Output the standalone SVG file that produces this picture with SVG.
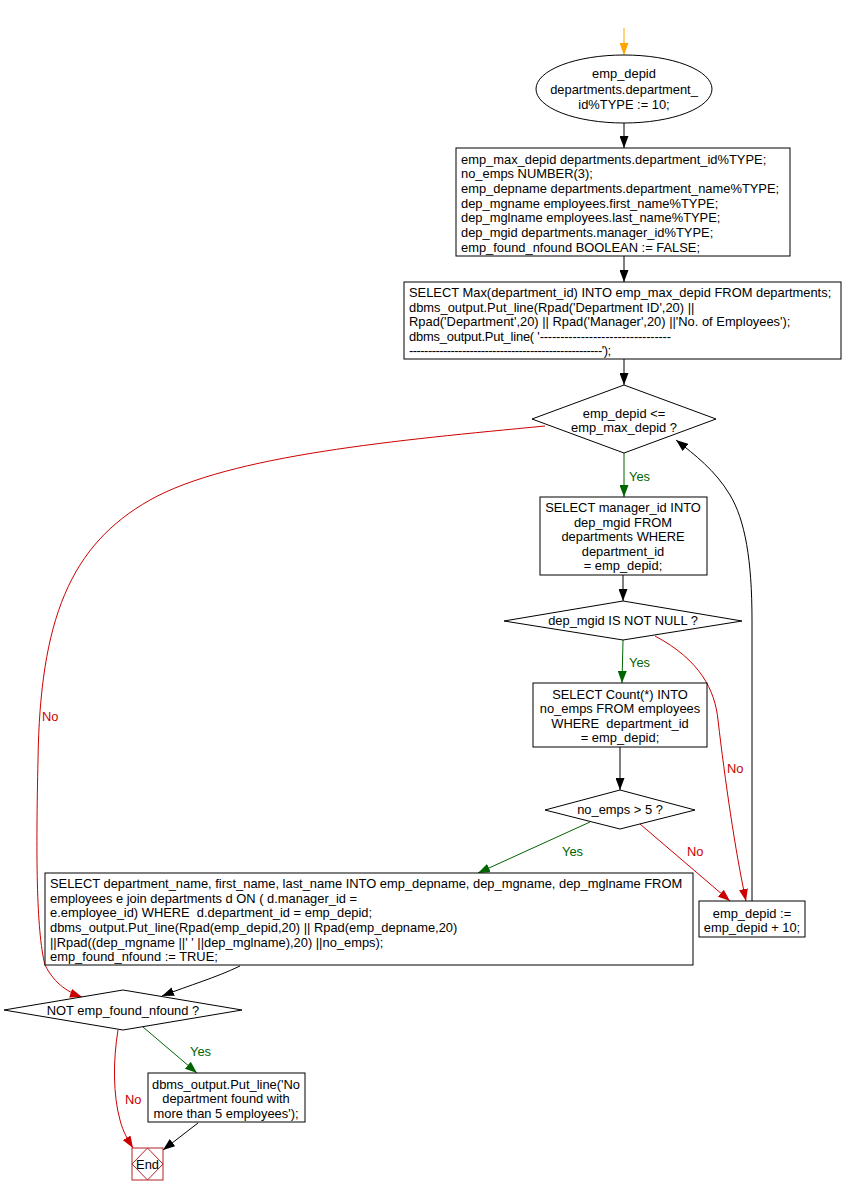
<svg xmlns="http://www.w3.org/2000/svg" width="844" height="1196" viewBox="0 0 844 1196">
<style>
text{font-family:"Liberation Sans",Arial,sans-serif;font-size:12.9px;fill:#000;white-space:pre}
.c{text-anchor:middle}
.n{fill:#fff;stroke:#000;stroke-width:1}
.e{fill:none;stroke-width:1}
.k{stroke:#000}.r{stroke:#cc0000}.g{stroke:#006400}.o{stroke:#ffa500}
.lr{fill:#cc0000}.lg{fill:#006400}
</style>
<defs>
<marker id="ak" markerUnits="userSpaceOnUse" markerWidth="12" markerHeight="9" refX="12" refY="4.5" orient="auto"><path d="M0,0L12,4.5L0,9z" fill="#000"/></marker>
<marker id="ar" markerUnits="userSpaceOnUse" markerWidth="12" markerHeight="9" refX="12" refY="4.5" orient="auto"><path d="M0,0L12,4.5L0,9z" fill="#cc0000"/></marker>
<marker id="ag" markerUnits="userSpaceOnUse" markerWidth="12" markerHeight="9" refX="12" refY="4.5" orient="auto"><path d="M0,0L12,4.5L0,9z" fill="#006400"/></marker>
<marker id="ao" markerUnits="userSpaceOnUse" markerWidth="12" markerHeight="9" refX="12" refY="4.5" orient="auto"><path d="M0,0L12,4.5L0,9z" fill="#ffa500"/></marker>
</defs>
<rect width="844" height="1196" fill="#fff"/>
<g id="connectors">
<path class="e o" d="M624,28V55" marker-end="url(#ao)"/>
<path class="e k" d="M624,123V148" marker-end="url(#ak)"/>
<path class="e k" d="M624,256V282" marker-end="url(#ak)"/>
<path class="e k" d="M624,359V385" marker-end="url(#ak)"/>
<path class="e g" d="M624,453V497" marker-end="url(#ag)"/>
<text x="629" y="481" class="lg">Yes</text>
<path class="e r" d="M545,426C400,440 230,455 150,500C70,545 40,620 38,760C36,850 36,930 45,965C55,985 70,993 82,997" marker-end="url(#ar)"/>
<text x="42" y="721" class="lr">No</text>
<path class="e k" d="M623,575V601" marker-end="url(#ak)"/>
<path class="e g" d="M623,640L622,683" marker-end="url(#ag)"/>
<text x="629" y="667" class="lg">Yes</text>
<path class="e r" d="M655,636C700,660 715,690 718,720C725,780 735,850 746,901" marker-end="url(#ar)"/>
<text x="727" y="773" class="lr">No</text>
<path class="e k" d="M620,747V790" marker-end="url(#ak)"/>
<path class="e g" d="M590,822L478,873" marker-end="url(#ag)"/>
<text x="562" y="856" class="lg">Yes</text>
<path class="e r" d="M640,824L730,901" marker-end="url(#ar)"/>
<text x="687" y="856" class="lr">No</text>
<path class="e k" d="M752,901V620C752,560 745,520 730,495C715,470 695,455 676,440" marker-end="url(#ak)"/>
<path class="e k" d="M240,966C215,978 190,985 162,996" marker-end="url(#ak)"/>
<path class="e r" d="M118,1030C113,1060 113,1095 120,1120C123,1132 128,1140 133,1148" marker-end="url(#ar)"/>
<text x="125" y="1104" class="lr">No</text>
<path class="e g" d="M143,1027L197,1073" marker-end="url(#ag)"/>
<text x="190" y="1056" class="lg">Yes</text>
<path class="e k" d="M198,1123L163,1150" marker-end="url(#ak)"/>
</g>
<g id="start">
<ellipse class="n" cx="624" cy="89" rx="88" ry="34"/>
<text class="c" x="624" y="78">emp_depid</text>
<text class="c" x="624" y="94">departments.department_</text>
<text class="c" x="624" y="109">id%TYPE := 10;</text>
</g>
<g id="declare">
<rect class="n" x="456" y="148" width="334" height="108"/>
<text x="461" y="164">emp_max_depid departments.department_id%TYPE;</text>
<text x="461" y="178">no_emps NUMBER(3);</text>
<text x="461" y="193">emp_depname departments.department_name%TYPE;</text>
<text x="461" y="208">dep_mgname employees.first_name%TYPE;</text>
<text x="461" y="222">dep_mglname employees.last_name%TYPE;</text>
<text x="461" y="237">dep_mgid departments.manager_id%TYPE;</text>
<text x="461" y="252">emp_found_nfound BOOLEAN := FALSE;</text>
</g>
<g id="selectmax">
<rect class="n" x="404" y="282" width="437" height="77"/>
<text x="409" y="297">SELECT Max(department_id) INTO emp_max_depid FROM departments;</text>
<text x="409" y="312">dbms_output.Put_line(Rpad('Department ID',20) ||</text>
<text x="409" y="326">Rpad('Department',20) || Rpad('Manager',20) ||'No. of Employees');</text>
<text x="409" y="341" textLength="262" lengthAdjust="spacing">dbms_output.Put_line( '--------------------------------</text>
<text x="409" y="355" textLength="202" lengthAdjust="spacing">---------------------------------------------------');</text>
</g>
<g id="loopcond">
<polygon class="n" points="624,385 716,419 624,453 532,419"/>
<text class="c" x="624" y="418">emp_depid &lt;=</text>
<text class="c" x="624" y="432">emp_max_depid ?</text>
</g>
<g id="selectmgr">
<rect class="n" x="540" y="497" width="167" height="78"/>
<text class="c" x="623" y="512">SELECT manager_id INTO</text>
<text class="c" x="623" y="527">dep_mgid FROM</text>
<text class="c" x="623" y="541">departments WHERE</text>
<text class="c" x="623" y="556">department_id</text>
<text class="c" x="623" y="570">= emp_depid;</text>
</g>
<g id="mgrcond">
<polygon class="n" points="623,601 742,621 623,640 504,621"/>
<text class="c" x="623" y="625">dep_mgid IS NOT NULL ?</text>
</g>
<g id="selectcount">
<rect class="n" x="533" y="683" width="174" height="64"/>
<text class="c" x="620" y="699">SELECT Count(*) INTO</text>
<text class="c" x="620" y="713">no_emps FROM employees</text>
<text class="c" x="620" y="728">WHERE  department_id</text>
<text class="c" x="620" y="742">= emp_depid;</text>
</g>
<g id="countcond">
<polygon class="n" points="620,790 695,810 620,829 545,810"/>
<text class="c" x="620" y="814">no_emps &gt; 5 ?</text>
</g>
<g id="increment">
<rect class="n" x="699" y="901" width="106" height="36"/>
<text class="c" x="752" y="918">emp_depid :=</text>
<text class="c" x="752" y="932">emp_depid + 10;</text>
</g>
<g id="selectdetails">
<rect class="n" x="45" y="873" width="648" height="92"/>
<text x="50" y="888">SELECT department_name, first_name, last_name INTO emp_depname, dep_mgname, dep_mglname FROM</text>
<text x="50" y="903">employees e join departments d ON ( d.manager_id =</text>
<text x="50" y="917">e.employee_id) WHERE  d.department_id = emp_depid;</text>
<text x="50" y="932">dbms_output.Put_line(Rpad(emp_depid,20) || Rpad(emp_depname,20)</text>
<text x="50" y="947">||Rpad((dep_mgname ||' ' ||dep_mglname),20) ||no_emps);</text>
<text x="50" y="961">emp_found_nfound := TRUE;</text>
</g>
<g id="foundcond">
<polygon class="n" points="123,990 242,1010 123,1030 4,1010"/>
<text class="c" x="123" y="1015">NOT emp_found_nfound ?</text>
</g>
<g id="nodept">
<rect class="n" x="148" y="1073" width="157" height="49"/>
<text class="c" x="226" y="1089">dbms_output.Put_line('No</text>
<text class="c" x="226" y="1103">department found with</text>
<text class="c" x="226" y="1118">more than 5 employees');</text>
</g>
<g id="end">
<rect x="132" y="1148" width="31" height="32" fill="#fff" stroke="#b22222"/>
<polygon points="147.5,1148 163,1164 147.5,1180 132,1164" fill="none" stroke="#b22222"/>
<text class="c" x="147.5" y="1169">End</text>
</g>
</svg>
